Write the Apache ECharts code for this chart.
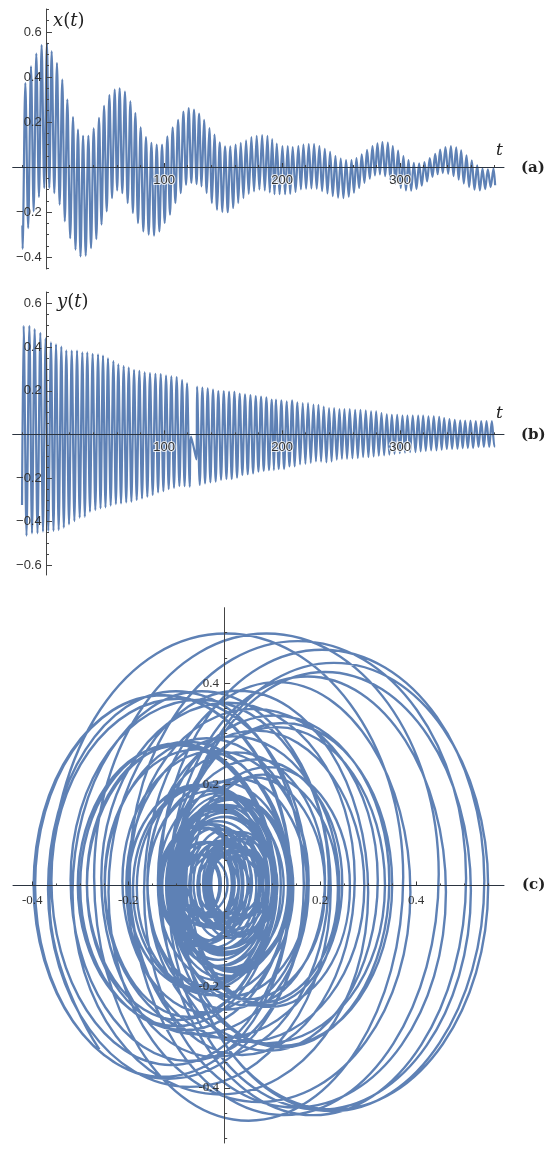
<!DOCTYPE html>
<html>
<head>
<meta charset="utf-8">
<style>
html, body { margin: 0; padding: 0; background: #fff; }
#chart { width: 550px; height: 1155px; }
</style>
<script src="https://cdn.jsdelivr.net/npm/echarts@6/dist/echarts.min.js"></script>
</head>
<body>
<div id="chart"></div>
<script>
// x(t): start point, then trough k comes before peak k
var xStart = [-20, -0.26];
var xEnd = [380.5, -0.081];
var xFirstTroughT = -19.8;
var xPeakT = [-17.5,-12.7,-8.2,-3.7,0.8,4.8,9.3,13.8,18.1,22.9,27.1,31.4,35.9,40.4,44.9,49.2,53.7,58.2,62.4,66.9,71.5,75.7,80.2,84.7,89.3,93.8,98.3,102.8,107.3,111.9,116.4,120.9,125.4,129.7,133.9,138.4,142.7,147.2,151.7,156.2,160.7,165.0,169.5,174.0,178.5,183.1,187.6,191.6,195.5,200.3,204.8,209.0,213.8,218.1,222.6,227.1,231.6,236.2,240.7,245.2,249.7,254.2,258.8,263.0,267.5,272.0,276.6,280.8,285.0,289.6,293.8,298.3,302.8,307.1,311.6,316.1,320.6,325.1,329.7,333.9,338.4,343.0,347.5,351.7,356.2,360.7,365.3,369.8,374.3,379.1];
var xPeak = [.373,.447,.504,.542,.55,.514,.462,.388,.30,.222,.166,.139,.139,.172,.218,.272,.32,.344,.35,.335,.292,.24,.176,.133,.107,.10,.10,.136,.176,.21,.246,.262,.255,.237,.21,.173,.144,.11,.092,.092,.10,.107,.118,.133,.139,.142,.139,.124,.104,.093,.093,.089,.093,.10,.102,.102,.093,.081,.067,.049,.037,.031,.031,.04,.056,.076,.093,.105,.111,.108,.093,.073,.049,.031,.019,.016,.022,.04,.058,.077,.089,.093,.087,.074,.052,.03,.007,-.007,-.01,-.007];
var xTrough = [-.364,-.271,-.197,-.133,-.093,-.093,-.116,-.167,-.241,-.316,-.367,-.397,-.394,-.36,-.32,-.256,-.197,-.138,-.104,-.116,-.16,-.204,-.249,-.286,-.30,-.305,-.286,-.249,-.212,-.16,-.116,-.079,-.071,-.076,-.086,-.116,-.16,-.19,-.20,-.201,-.182,-.16,-.138,-.119,-.108,-.10,-.104,-.113,-.121,-.121,-.121,-.119,-.111,-.099,-.096,-.095,-.096,-.107,-.117,-.129,-.136,-.138,-.132,-.114,-.093,-.07,-.052,-.037,-.033,-.04,-.056,-.073,-.093,-.104,-.105,-.098,-.083,-.064,-.044,-.032,-.027,-.03,-.04,-.056,-.073,-.089,-.1,-.104,-.098,-.089];

// y(t): start point, then peak k followed by trough k; a slip sits after trough 31
var yStart = [-20.3, -0.324];
var yEnd = [380.5, -0.055];
var yPeakT = [-18.9,-14.1,-9.6,-4.8,-0.3,4.2,8.5,13.0,17.2,21.8,26.3,30.8,35.0,39.5,44.1,48.3,52.5,57.1,61.3,65.8,70.1,74.6,79.1,83.6,88.1,92.7,97.2,101.7,106.2,110.7,115.3,119.5,128.0,132.5,137.0,141.5,146.0,150.6,155.1,159.6,164.1,168.6,173.2,177.7,182.2,186.7,191.2,194.9,199.4,204,208.5,213,217.5,222,226.6,230.8,235.3,239.8,244.1,248.6,252.8,257.3,261.9,266.4,270.9,275.4,279.7,284.2,288.7,293,297.5,302,306.2,310.7,315.3,319.5,324,328.5,333.1,337.3,341.8,346.3,350.9,355.1,359.6,364.1,368.7,373.2,377.7];
var yPeak = [.498,.498,.483,.466,.44,.422,.413,.402,.385,.384,.384,.376,.376,.369,.367,.361,.349,.336,.321,.313,.306,.295,.291,.284,.281,.278,.277,.269,.266,.263,.249,.234,.219,.214,.211,.205,.199,.199,.196,.196,.187,.183,.18,.176,.173,.17,.159,.159,.156,.151,.156,.147,.144,.144,.136,.135,.127,.121,.121,.116,.116,.116,.113,.113,.11,.106,.106,.098,.092,.09,.089,.086,.086,.086,.086,.086,.083,.083,.08,.075,.07,.067,.064,.063,.063,.061,.061,.061,.061];
var yTrough = [-.465,-.454,-.454,-.446,-.443,-.443,-.439,-.428,-.413,-.398,-.382,-.378,-.355,-.347,-.339,-.335,-.327,-.32,-.317,-.312,-.309,-.301,-.294,-.286,-.278,-.266,-.26,-.251,-.245,-.237,-.237,-.24,-.232,-.225,-.22,-.217,-.209,-.205,-.205,-.199,-.187,-.183,-.179,-.171,-.167,-.164,-.164,-.159,-.159,-.147,-.147,-.138,-.135,-.131,-.124,-.125,-.128,-.124,-.116,-.112,-.112,-.11,-.109,-.104,-.104,-.101,-.098,-.096,-.093,-.089,-.086,-.083,-.081,-.081,-.078,-.075,-.073,-.073,-.07,-.067,-.067,-.066,-.064,-.063,-.063,-.058,-.058,-.058,-.055];
var ySlipT = [122.9, 127.4];
var ySlipV = [-0.01, -0.115];
var slipIndex = 32; // first y peak after the slip
var phaseStart = [[-0.26, -0.324], [-0.364, -0.03]];

var xTicksMajorT = [100, 200, 300];
var tMinor = [-20,0,20,40,60,80,100,120,140,160,180,200,220,240,260,280,300,320,340,360,380];
var xMajorA = [-0.4,-0.2,0.2,0.4,0.6];
var xMinorA = [-0.45,-0.35,-0.3,-0.25,-0.15,-0.1,-0.05,0.05,0.1,0.15,0.25,0.3,0.35,0.45,0.5,0.55,0.65,0.7];
var yMajorB = [-0.6,-0.4,-0.2,0.2,0.4,0.6];
var yMinorB = [-0.65,-0.55,-0.5,-0.45,-0.35,-0.3,-0.25,-0.15,-0.1,-0.05,0.05,0.1,0.15,0.25,0.3,0.35,0.45,0.5,0.55,0.65];
var cMajorX = [-0.4,-0.2,0.2,0.4];
var cMinorX = [-0.35,-0.3,-0.25,-0.15,-0.1,-0.05,0.05,0.1,0.15,0.25,0.3,0.35,0.45,0.5,0.55];
var cMajorY = [-0.4,-0.2,0.2,0.4];
var cMinorY = [-0.5,-0.45,-0.35,-0.3,-0.25,-0.15,-0.1,-0.05,0.05,0.1,0.15,0.25,0.3,0.35,0.45,0.5];

var blue = '#5E81B5';

// time series for (a)
var xData = [xStart];
for (var i = 0; i < xPeak.length; i++) {
    var tt = i === 0 ? xFirstTroughT : (xPeakT[i - 1] + xPeakT[i]) / 2;
    xData.push([tt, xTrough[i]]);
    xData.push([xPeakT[i], xPeak[i]]);
}
xData.push(xEnd);

// time series for (b)
var yData = [yStart];
for (var j = 0; j < yPeak.length; j++) {
    if (j === slipIndex) {
        yData.push([ySlipT[0], ySlipV[0]]);
        yData.push([ySlipT[1], ySlipV[1]]);
    }
    yData.push([yPeakT[j], yPeak[j]]);
    var next = j + 1 < yPeakT.length ? (yPeakT[j] + yPeakT[j + 1]) / 2 : yPeakT[j] + 2.2;
    if (j + 1 === slipIndex) next = yPeakT[j] + 2.3;
    yData.push([next, yTrough[j]]);
}
yData.push(yEnd);

// phase curve (c) goes through the extremes read for x(t) and y(t)
var phase = phaseStart.slice();
for (var k = 0; k < xPeak.length; k++) {
    if (k === slipIndex) continue;
    var xNext = k + 1 < xTrough.length ? xTrough[k + 1] : xEnd[1];
    var n = k < slipIndex ? k : k - 1;
    var ym = (yPeak[n] + yTrough[n]) / 2;
    phase.push([(xTrough[k] + xPeak[k]) / 2, yPeak[n]]);
    phase.push([xPeak[k], ym]);
    phase.push([(xPeak[k] + xNext) / 2, yTrough[n]]);
    phase.push([xNext, ym]);
}

// v6 keeps tick labels at the grid edge even with onZero, so the margins pull them back to the axis
function hAxis(grid, min, max, major, minor, font, fmt, labelMargin, halo) {
    return [{
        gridIndex: grid, type: 'value', min: min, max: max, position: 'bottom', z: 5,
        axisLine: { onZero: true, lineStyle: { color: '#2b3440', width: 1 } },
        axisTick: { show: true, inside: true, length: 4, customValues: major, lineStyle: { color: '#333' } },
        axisLabel: { show: true, customValues: major, formatter: fmt, margin: labelMargin, fontSize: 13, fontFamily: font, color: '#333',
            textBorderColor: halo ? 'rgba(255,255,255,0.75)' : 'transparent', textBorderWidth: halo ? 2 : 0 },
        splitLine: { show: false }
    }, {
        gridIndex: grid, type: 'value', min: min, max: max, position: 'top', z: 5,
        axisLine: { show: false, onZero: true },
        axisTick: { show: true, inside: false, length: 2, customValues: minor, lineStyle: { color: '#444' } },
        axisLabel: { show: false },
        splitLine: { show: false }
    }];
}

function vAxis(grid, min, max, major, minor, font, fmt, labelMargin) {
    return [{
        gridIndex: grid, type: 'value', min: min, max: max, position: 'left', z: 5,
        axisLine: { onZero: true, lineStyle: { color: '#444', width: 1 } },
        axisTick: { show: true, inside: true, length: 6, customValues: major, lineStyle: { color: '#444' } },
        axisLabel: { show: true, customValues: major, formatter: fmt, margin: labelMargin, fontSize: 13, fontFamily: font, color: '#333' },
        splitLine: { show: false }
    }, {
        gridIndex: grid, type: 'value', min: min, max: max, position: 'right', z: 5,
        axisLine: { show: false, onZero: true },
        axisTick: { show: true, inside: false, length: 3, customValues: minor, lineStyle: { color: '#444' } },
        axisLabel: { show: false },
        splitLine: { show: false }
    }];
}

function fmtMinus(v) { return v.toFixed(1).replace('-', '\u2212'); }
function fmtHyphen(v) { return v.toFixed(1); }
function fmtInt(v) { return String(v); }

var sans = '"Liberation Sans", sans-serif';
var serif = '"Liberation Serif", serif';

function mathLabel(a, x, y) {
    return {
        type: 'text', left: x, top: y, silent: true,
        style: {
            text: '{i|' + a + '}{n|(}{i|t}{n|)}',
            rich: {
                i: { fontFamily: '"DejaVu Serif", serif', fontStyle: 'italic', fontSize: 18, fill: '#222' },
                n: { fontFamily: '"DejaVu Serif", serif', fontSize: 18, fill: '#222' }
            }
        }
    };
}
function plainLabel(txt, x, y, size, weight, style) {
    return {
        type: 'text', left: x, top: y, silent: true,
        style: { text: txt, fontFamily: '"DejaVu Serif", serif', fontSize: size, fontWeight: weight, fontStyle: style, fill: '#222' }
    };
}

var chart = echarts.init(document.getElementById('chart'));
chart.setOption({
    animation: false,
    backgroundColor: '#fff',
    grid: [
        { left: 12.7, right: 46, top: 9, height: 260, outerBoundsMode: 'none' },
        { left: 12.7, right: 46, top: 292, height: 283, outerBoundsMode: 'none' },
        { left: 13, right: 46, top: 607.7, height: 535.3, outerBoundsMode: 'none' }
    ],
    xAxis: [].concat(
        hAxis(0, -28.2, 388, xTicksMajorT, tMinor, sans, fmtInt, -95, true),
        hAxis(1, -28.2, 388, xTicksMajorT, tMinor, sans, fmtInt, -134, true),
        hAxis(2, -0.44, 0.583, cMajorX, cMinorX, serif, fmtHyphen, -249, false)
    ),
    yAxis: [].concat(
        vAxis(0, -0.453, 0.702, xMajorA, xMinorA, sans, fmtMinus, -29),
        vAxis(1, -0.645, 0.653, yMajorB, yMinorB, sans, fmtMinus, -29),
        vAxis(2, -0.509, 0.549, cMajorY, cMinorY, serif, fmtHyphen, -206)
    ),
    series: [
        { type: 'line', xAxisIndex: 0, yAxisIndex: 0, data: xData, showSymbol: false, smooth: 0.3, lineStyle: { color: blue, width: 2.2 } },
        { type: 'line', xAxisIndex: 2, yAxisIndex: 2, data: yData, showSymbol: false, smooth: 0.3, lineStyle: { color: blue, width: 2.2 } },
        { type: 'line', xAxisIndex: 4, yAxisIndex: 4, data: phase, showSymbol: false, smooth: 0.55, lineStyle: { color: blue, width: 2.4 } }
    ],
    graphic: [
        mathLabel('x', 53, 12),
        mathLabel('y', 57, 293),
        plainLabel('t', 496, 142, 17, 'normal', 'italic'),
        plainLabel('t', 496, 405, 17, 'normal', 'italic'),
        plainLabel('(a)', 521, 161, 15, 'bold', 'normal'),
        plainLabel('(b)', 521, 428, 15, 'bold', 'normal'),
        plainLabel('(c)', 522, 878, 15, 'bold', 'normal')
    ]
});
</script>
</body>
</html>
